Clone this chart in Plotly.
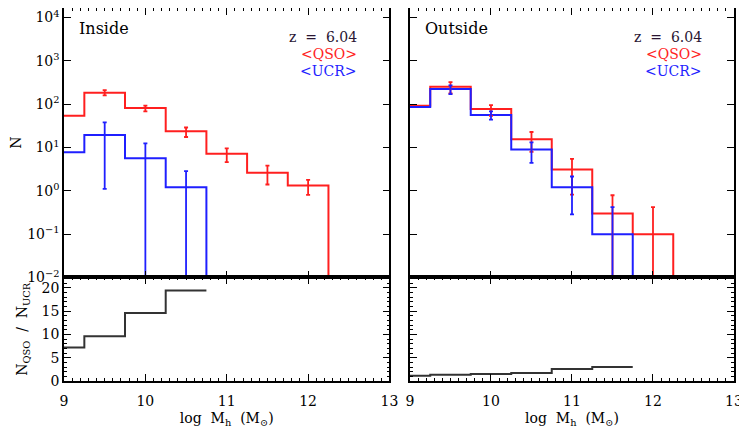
import plotly.graph_objects as go

# bin centres in log M_h (bins are 0.5 dex wide)
CENTERS = [9.0, 9.5, 10.0, 10.5, 11.0, 11.5, 12.0]
BIN_HALF = 0.25
FLOOR = 1e-4  # closes a histogram below the log axis

# Inside
QSO_IN = [54, 184, 81.5, 23.6, 7.2, 2.6, 1.33]
QSO_IN_ERR_X = [9.5, 10.0, 10.5, 11.0, 11.5, 12.0]
QSO_IN_HI = [211, 93, 29, 9.6, 3.8, 1.79]
QSO_IN_LO = [160, 68, 17.5, 4.6, 1.4, 0.81]
UCR_IN = [7.8, 19.5, 5.65, 1.21]
UCR_IN_ERR_X = [9.5, 10.0, 10.5]
UCR_IN_HI = [38, 12.5, 2.84]
UCR_IN_LO = [1.11, 0, 0]
RATIO_IN = [7.17, 9.6, 14.6, 19.4]

# Outside
QSO_OUT = [92, 253, 77, 15.5, 3.1, 0.30, 0.10]
QSO_OUT_ERR_X = [9.5, 10.0, 10.5, 11.0, 11.5, 12.0]
QSO_OUT_HI = [323, 95.5, 22.8, 5.45, 0.79, 0.42]
QSO_OUT_LO = [177, 54, 7.9, 0.82, 0, 0]
UCR_OUT = [86, 223, 56, 8.95, 1.21, 0.10]
UCR_OUT_ERR_X = [9.5, 10.0, 10.5, 11.0, 11.5]
UCR_OUT_HI = [271, 68, 13.2, 2.14, 0.42]
UCR_OUT_LO = [171, 44, 4.4, 0.285, 0]
RATIO_OUT = [1.15, 1.36, 1.5, 1.72, 2.58, 3.0]

# log-axis tick labels
LOG_TICKS = [1e-2, 1e-1, 1, 10, 100, 1e3, 1e4]
LOG_TICK_TEXT = ["10<sup>−2</sup>", "10<sup>−1</sup>", "10<sup>0</sup>", "10<sup>1</sup>",
                 "10<sup>2</sup>", "10<sup>3</sup>", "10<sup>4</sup>"]

RED = "#ff1f1f"
BLUE = "#1f1fff"
DARK = "#2a1633"
FONT = "DejaVu Serif"


def step_xy(values, close=False):
    xs = [c - BIN_HALF for c in CENTERS[:len(values)]]
    xs.append(CENTERS[len(values) - 1] + BIN_HALF)
    ys = list(values) + [values[-1]]
    if close:
        xs.append(xs[-1])
        ys.append(FLOOR)
    return xs, ys


def hist(values, color, xa, ya, close=True):
    x, y = step_xy(values, close)
    return go.Scatter(x=x, y=y, mode="lines", line=dict(color=color, width=2, shape="hv"),
                      xaxis=xa, yaxis=ya, showlegend=False, hoverinfo="skip")


def errs(ex, values, hi, lo, color, xa, ya):
    ys = [values[CENTERS.index(c)] for c in ex]
    return go.Scatter(
        x=ex, y=ys, mode="markers", marker=dict(size=1, opacity=0),
        error_y=dict(type="data", symmetric=False,
                     array=[h - v for h, v in zip(hi, ys)],
                     arrayminus=[v - l for v, l in zip(ys, lo)],
                     color=color, thickness=1.8, width=2),
        xaxis=xa, yaxis=ya, showlegend=False, hoverinfo="skip")


fig = go.Figure()
# top-left: Inside
fig.add_trace(hist(QSO_IN, RED, "x", "y"))
fig.add_trace(hist(UCR_IN, BLUE, "x", "y"))
fig.add_trace(errs(QSO_IN_ERR_X, QSO_IN, QSO_IN_HI, QSO_IN_LO, RED, "x", "y"))
fig.add_trace(errs(UCR_IN_ERR_X, UCR_IN, UCR_IN_HI, UCR_IN_LO, BLUE, "x", "y"))
# top-right: Outside
fig.add_trace(hist(QSO_OUT, RED, "x2", "y2"))
fig.add_trace(hist(UCR_OUT, BLUE, "x2", "y2"))
fig.add_trace(errs(QSO_OUT_ERR_X, QSO_OUT, QSO_OUT_HI, QSO_OUT_LO, RED, "x2", "y2"))
fig.add_trace(errs(UCR_OUT_ERR_X, UCR_OUT, UCR_OUT_HI, UCR_OUT_LO, BLUE, "x2", "y2"))
# ratio panels
fig.add_trace(hist(RATIO_IN, "#333333", "x3", "y3", close=False))
fig.add_trace(hist(RATIO_OUT, "#333333", "x4", "y4", close=False))

tick = dict(ticks="inside", mirror="ticks", showline=True, linecolor="black", linewidth=1.5,
            tickcolor="black", showgrid=False, zeroline=False, automargin=False,
            ticklabeloverflow="allow",
            tickfont=dict(family=FONT, size=14, color="black"))
xcommon = dict(tick, range=[9, 13], dtick=1, ticklen=7, tickwidth=1.2, ticklabelstandoff=6,
               minor=dict(dtick=0.1, ticks="inside", ticklen=3, tickcolor="black", tickwidth=1))
xtitle = dict(text="log&nbsp; M<sub>h</sub>&nbsp; (M<sub>⊙</sub>)",
              font=dict(family=FONT, size=14), standoff=6)
ytop = dict(tick, type="log", range=[-2, 4.22], tickmode="array", tickvals=LOG_TICKS,
            ticktext=LOG_TICK_TEXT, ticklen=7, tickwidth=1.2)
ybot = dict(tick, range=[0, 22.2], dtick=5, ticklen=7, tickwidth=1.2,
            minor=dict(dtick=1, ticks="inside", ticklen=3, tickcolor="black", tickwidth=1))

# the page body adds an 8px offset, so the figure is 8px smaller than the window
split = 0.2775
fig.update_layout(
    width=739, height=420,
    margin=dict(l=56, r=13, t=0, b=47),
    paper_bgcolor="white", plot_bgcolor="white",
    font=dict(family=FONT, color="black"),
    xaxis=dict(xcommon, domain=[0, 0.4858], anchor="y", showticklabels=False),
    xaxis2=dict(xcommon, domain=[0.5164, 1], anchor="y2", showticklabels=False),
    xaxis3=dict(xcommon, domain=[0, 0.4858], anchor="y3", title=xtitle),
    xaxis4=dict(xcommon, domain=[0.5164, 1], anchor="y4", title=xtitle),
    yaxis=dict(ytop, domain=[split, 1], anchor="x",
               title=dict(text="N", font=dict(family=FONT, size=14), standoff=16)),
    yaxis2=dict(ytop, domain=[split, 1], anchor="x2", showticklabels=False),
    yaxis3=dict(ybot, domain=[0, split], anchor="x3",
                title=dict(text="N<sub>QSO</sub>&nbsp; /&nbsp; N<sub>UCR</sub>",
                           font=dict(family=FONT, size=14), standoff=11)),
    yaxis4=dict(ybot, domain=[0, split], anchor="x4", showticklabels=False),
)

for xref, label in [("x", "Inside"), ("x2", "Outside")]:
    fig.add_annotation(x=9.16, y=0.946, xref=xref, yref="paper", text=label, showarrow=False,
                       xanchor="left", yanchor="middle", font=dict(family=FONT, size=16))
    fig.add_annotation(x=12.63, y=0.922, xref=xref, yref="paper", text="z&nbsp; =&nbsp; 6.04",
                       showarrow=False, xanchor="right", yanchor="middle",
                       font=dict(family=FONT, size=14, color=DARK))
    fig.add_annotation(x=12.63, y=0.878, xref=xref, yref="paper", text="&lt;QSO&gt;",
                       showarrow=False, xanchor="right", yanchor="middle",
                       font=dict(family=FONT, size=14, color=RED))
    fig.add_annotation(x=12.63, y=0.831, xref=xref, yref="paper", text="&lt;UCR&gt;",
                       showarrow=False, xanchor="right", yanchor="middle",
                       font=dict(family=FONT, size=14, color=BLUE))

fig.write_html("out.html")
